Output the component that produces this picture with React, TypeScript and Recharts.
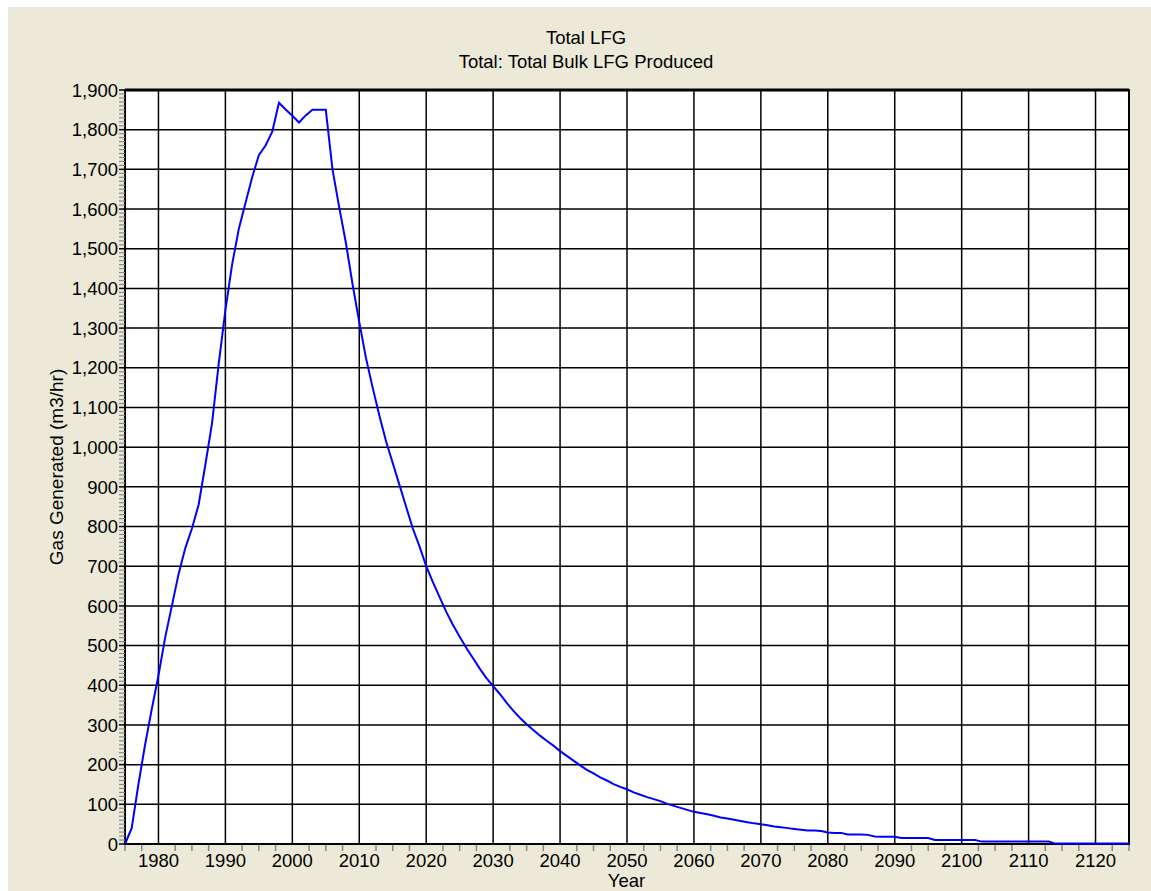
import {
  LineChart,
  Line,
  XAxis,
  YAxis,
  CartesianGrid,
  ReferenceArea,
  ReferenceLine,
} from 'recharts'

// annual total LFG, m3/hr, starting in 1975
const firstYear = 1975
const gas = [
  0, 40, 150, 250, 340, 425, 520, 600, 680, 745,
  795, 855, 955, 1060, 1210, 1345, 1460, 1550, 1615, 1680,
  1736, 1760, 1795, 1868, 1851, 1835, 1818, 1836, 1850, 1850,
  1850, 1700, 1605, 1515, 1410, 1315, 1225, 1150, 1080, 1015,
  960, 905, 850, 795, 750, 700, 660, 622, 585, 552,
  522, 494, 468, 442, 418, 398, 378, 356, 336, 318,
  302, 287, 273, 260, 248, 234, 222, 210, 198, 187,
  178, 168, 160, 151, 144, 138, 130, 124, 118, 113,
  108, 101, 96, 91, 86, 81, 78, 75, 71, 67,
  64, 61, 58, 55, 52, 50, 47, 44, 42, 40,
  38, 36, 34, 34, 33, 29, 28, 28, 24, 24,
  24, 23, 19, 18, 18, 18, 15, 15, 15, 15,
  15, 10, 10, 10, 10, 10, 10, 10, 6, 6,
  6, 6, 6, 6, 6, 6, 6, 6, 6, 1,
  1, 1, 1, 1, 1, 1, 1, 1, 1, 1,
  1,
]

const decadeTicks = [1980, 1990, 2000, 2010, 2020, 2030, 2040, 2050, 2060, 2070, 2080, 2090, 2100, 2110, 2120]
const valueTicks = [0, 100, 200, 300, 400, 500, 600, 700, 800, 900, 1000, 1100, 1200, 1300, 1400, 1500, 1600, 1700, 1800, 1900]

const yearTicks: number[] = []
for (let y = 1975; y <= 2125; y += 2.5) yearTicks.push(y)
const minorValueTicks: number[] = []
for (let v = 0; v <= 1900; v += 10) minorValueTicks.push(v)

const data = gas.map((v, i) => ({ year: firstYear + i, gas: v }))

const font = '"Liberation Sans", Arial, sans-serif'
const beige = '#ECE9D8'

function YearTick({ x, y, payload }: any) {
  const v = payload.value
  if (decadeTicks.includes(v)) {
    return (
      <text x={x} y={y + 23} textAnchor="middle" fontSize={18.5} fontFamily={font} fill="#000">
        {v}
      </text>
    )
  }
  return <line x1={x} x2={x} y1={y + 1} y2={y + 7} stroke="#888" strokeWidth={1.5} />
}

function ValueTick({ x, y, payload }: any) {
  const v = payload.value
  if (v % 100 === 0) {
    return (
      <g>
        <line x1={x - 6} x2={x} y1={y} y2={y} stroke="#000" strokeWidth={1.5} />
        <text x={x - 7} y={y} dy="0.36em" textAnchor="end" fontSize={18.5} fontFamily={font} fill="#000">
          {v.toLocaleString('en-US')}
        </text>
      </g>
    )
  }
  return <line x1={x - 6} x2={x} y1={y} y2={y} stroke="#888" strokeWidth={1.2} />
}

export default function App() {
  return (
    <div
      style={{
        position: 'fixed',
        left: 8,
        top: 7,
        width: 1143,
        height: 884,
        background: beige,
        overflow: 'hidden',
      }}
    >
      <LineChart
        width={1143}
        height={884}
        data={data}
        margin={{ top: 83, right: 22, bottom: 17, left: 57 }}
      >
        <CartesianGrid
          horizontalValues={valueTicks}
          verticalValues={decadeTicks}
          stroke="#000"
          strokeWidth={1.5}
          fill="#fff"
          fillOpacity={1}
        />
        <XAxis
          dataKey="year"
          type="number"
          domain={[1975, 2125]}
          ticks={yearTicks}
          interval={0}
          tick={<YearTick />}
          tickLine={false}
          axisLine={false}
          tickSize={0}
          tickMargin={0}
          height={30}
        />
        <YAxis
          type="number"
          domain={[0, 1900]}
          ticks={minorValueTicks}
          interval={0}
          tick={<ValueTick />}
          tickLine={false}
          axisLine={false}
          tickSize={0}
          tickMargin={0}
          width={60}
        />
        <ReferenceArea
          x1={1975}
          x2={2125}
          y1={0}
          y2={1900}
          fill="none"
          fillOpacity={0}
          stroke="#000"
          strokeWidth={2}
        />
        <ReferenceLine y={1900} stroke="#000" strokeWidth={3} />
        <Line
          type="linear"
          dataKey="gas"
          stroke="#0000ff"
          strokeWidth={2}
          dot={false}
          isAnimationActive={false}
        />
      </LineChart>
      <svg
        width={1143}
        height={884}
        style={{ position: 'absolute', left: 0, top: 0, pointerEvents: 'none' }}
        fontFamily={font}
      >
        <text x={578} y={37} textAnchor="middle" fontSize={18.5} fill="#000">
          Total LFG
        </text>
        <text x={578} y={61} textAnchor="middle" fontSize={18.5} fill="#000">
          Total: Total Bulk LFG Produced
        </text>
        <text x={618.5} y={880} textAnchor="middle" fontSize={18.5} fill="#000">
          Year
        </text>
        <text
          transform="translate(54.5,460) rotate(-90)"
          textAnchor="middle"
          fontSize={19}
          fill="#000"
        >
          Gas Generated (m3/hr)
        </text>
      </svg>
    </div>
  )
}
